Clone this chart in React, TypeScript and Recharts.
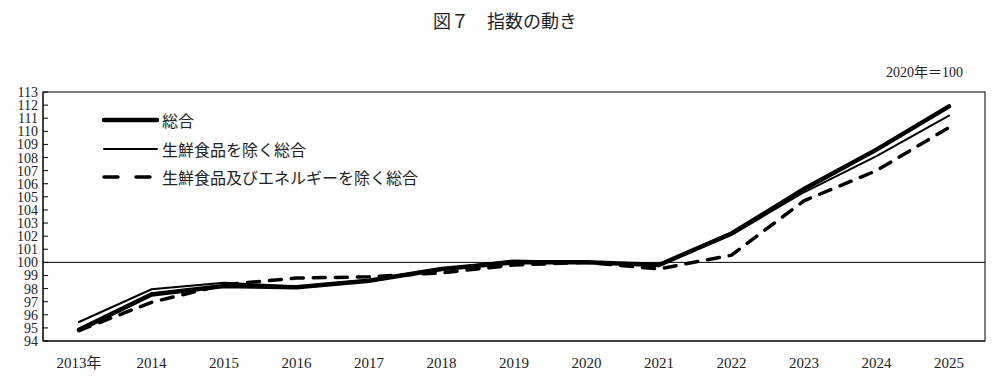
import React from 'react';
import { LineChart, Line, XAxis, YAxis, ReferenceLine } from 'recharts';

const years = ['2013年', '2014', '2015', '2016', '2017', '2018', '2019', '2020', '2021', '2022', '2023', '2024', '2025'];
const sogo = [94.85, 97.55, 98.2, 98.1, 98.6, 99.5, 100.0, 100.0, 99.8, 102.2, 105.6, 108.6, 111.9];
const coreCpi = [95.45, 97.95, 98.45, 98.15, 98.65, 99.5, 100.15, 100.0, 99.8, 102.1, 105.35, 108.1, 111.2];
const coreCoreCpi = [94.8, 96.95, 98.3, 98.8, 98.9, 99.2, 99.8, 100.0, 99.5, 100.55, 104.7, 107.0, 110.3];
const yTicks = [94, 95, 96, 97, 98, 99, 100, 101, 102, 103, 104, 105, 106, 107, 108, 109, 110, 111, 112, 113];

const data = years.map((year, i) => ({
  year,
  sogo: sogo[i],
  core: coreCpi[i],
  coreCore: coreCoreCpi[i],
}));

const SERIF = '"Liberation Serif", "DejaVu Serif", "Noto Sans CJK JP", serif';

// レイアウト
const W = 992;
const H = 389;
const MARGIN = { top: 92, right: 7, bottom: 0, left: 0 };
const Y_AXIS_W = 43;
const X_AXIS_H = 48;

// 系列ごとの線種
const SERIES = [
  { key: 'sogo', name: '総合', width: 4.5, dash: undefined as string | undefined },
  { key: 'core', name: '生鮮食品を除く総合', width: 2, dash: undefined as string | undefined },
  { key: 'coreCore', name: '生鮮食品及びエネルギーを除く総合', width: 3.5, dash: '12 10' },
];

const LegendBox = () => (
  <div
    style={{
      position: 'absolute',
      left: 101,
      top: 106,
      fontFamily: SERIF,
      fontSize: 16,
      color: '#222',
    }}
  >
    {SERIES.map((s) => (
      <div key={s.key} style={{ display: 'flex', alignItems: 'center', height: 28.5 }}>
        <svg width={60} height={10}>
          <line
            x1={3}
            y1={5}
            x2={s.dash ? 50 : 56}
            y2={5}
            stroke="#000"
            strokeWidth={s.width}
            strokeDasharray={s.dash ? '14 18' : undefined}
            strokeLinecap="round"
          />
        </svg>
        <span style={{ marginLeft: 1 }}>{s.name}</span>
      </div>
    ))}
  </div>
);

const YTick = (props: any) => {
  const { x, y, payload } = props;
  return (
    <g>
      <text x={x} y={y} dy={5} textAnchor="end" fontSize={14} fontFamily={SERIF} fill="#222">
        {payload.value}
      </text>
      <line x1={x + 5} y1={y} x2={x + 10} y2={y} stroke="#000" strokeWidth={1} />
    </g>
  );
};

export default function App() {
  const plotLeft = MARGIN.left + Y_AXIS_W;
  const plotTop = MARGIN.top;
  const plotW = W - MARGIN.left - MARGIN.right - Y_AXIS_W;
  const plotH = H - MARGIN.top - MARGIN.bottom - X_AXIS_H;
  return (
    <div style={{ position: 'absolute', left: 0, top: 0, width: W, height: H, background: '#fff' }}>
      <div
        style={{
          position: 'absolute',
          top: 7,
          width: W,
          textAlign: 'center',
          fontFamily: SERIF,
          fontSize: 18,
          color: '#222',
          paddingLeft: 18,
          boxSizing: 'border-box',
        }}
      >
        図７　指数の動き
      </div>
      <div
        style={{
          position: 'absolute',
          top: 61,
          right: 29,
          fontFamily: SERIF,
          fontSize: 14,
          color: '#222',
        }}
      >
        2020年＝100
      </div>
      {/* プロット領域の枠線 */}
      <div
        style={{
          position: 'absolute',
          left: plotLeft,
          top: plotTop,
          width: plotW,
          height: plotH,
          border: '1px solid #000',
          boxSizing: 'border-box',
          transform: 'translate(-0.5px, -0.5px)',
          width: plotW + 1,
          height: plotH + 1,
        } as any}
      />
      <div style={{ position: 'absolute', left: 0, top: 0 }}>
        <LineChart width={W} height={H} data={data} margin={MARGIN}>
          <XAxis
            dataKey="year"
            height={X_AXIS_H}
            interval={0}
            padding={{ left: 36, right: 36 }}
            tickLine={false}
            tickMargin={10}
            axisLine={{ stroke: '#000' }}
            tick={{ fontSize: 15, fontFamily: SERIF, fill: '#222' }}
          />
          <YAxis
            width={Y_AXIS_W}
            domain={[94, 113]}
            ticks={yTicks}
            interval={0}
            tickLine={false}
            tickSize={0}
            tickMargin={5}
            axisLine={{ stroke: '#000' }}
            tick={<YTick />}
          />
          <ReferenceLine y={100} stroke="#000" strokeWidth={1} />
          {SERIES.map((s) => (
            <Line
              key={s.key}
              dataKey={s.key}
              name={s.name}
              stroke="#000"
              strokeWidth={s.width}
              strokeDasharray={s.dash}
              strokeLinecap="round"
              dot={false}
              isAnimationActive={false}
            />
          ))}
        </LineChart>
      </div>
      <LegendBox />
    </div>
  );
}
